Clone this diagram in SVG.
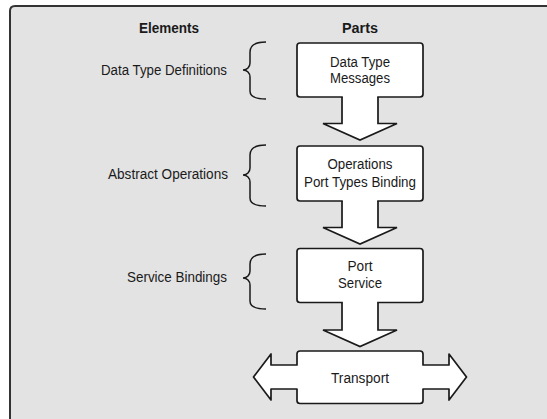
<svg xmlns="http://www.w3.org/2000/svg" width="547" height="419" viewBox="0 0 547 419">
  <style>
    text { font-family: "Liberation Sans Narrow", "Liberation Sans", Arial, sans-serif; font-size: 14px; fill: #1a1a1a; }
    .hdr { font-weight: bold; text-anchor: middle; }
    .lbl { text-anchor: end; }
    .in { text-anchor: middle; }
    .shape { fill: #ffffff; stroke: #1a1a1a; stroke-width: 1.7; stroke-linejoin: round; }
    .brace { fill: none; stroke: #1a1a1a; stroke-width: 1.5; }
    .afill { fill: #ffffff; stroke: none; }
    .aline { fill: none; stroke: #1a1a1a; stroke-width: 1.7; stroke-linejoin: miter; }
  </style>
  <rect x="0" y="0" width="547" height="419" fill="#ffffff"/>
  <path d="M10,430 V11 Q10,6 15,6 H560 V430 Z" fill="#e3e3e3"/>
  <path d="M10,430 V11 Q10,6 15,6 H560" fill="none" stroke="#333333" stroke-width="2"/>

  <text class="hdr" x="169" y="33" textLength="60" lengthAdjust="spacingAndGlyphs">Elements</text>
  <text class="hdr" x="360" y="33" textLength="36" lengthAdjust="spacingAndGlyphs">Parts</text>

  <g id="label-data-type-definitions">
    <text class="lbl" x="227" y="74.5" textLength="126" lengthAdjust="spacingAndGlyphs">Data Type Definitions</text>
    <path class="brace" d="M266,42 C256,42 250,45 250,52 V63 C250,67 247,70 243,70 C247,70 250,73 250,77 V91 C250,96 256,99 266,99"/>
  </g>
  <g id="label-abstract-operations">
    <text class="lbl" x="228" y="179" textLength="120" lengthAdjust="spacingAndGlyphs">Abstract Operations</text>
    <path class="brace" d="M266,145 C256,145 250,148 250,155 V168 C250,172 247,175 243,175 C247,175 250,178 250,182 V198 C250,203 256,206 266,206"/>
  </g>
  <g id="label-service-bindings">
    <text class="lbl" x="227" y="282" textLength="100" lengthAdjust="spacingAndGlyphs">Service Bindings</text>
    <path class="brace" d="M266,254 C256,254 250,257 250,264 V271 C250,275 247,278 243,278 C247,278 250,281 250,285 V301 C250,306 256,309 266,309"/>
  </g>

  <g id="node-data-type">
    <rect class="shape" x="297" y="43" width="126" height="54" rx="3"/>
    <text class="in" x="360" y="66.5" textLength="60" lengthAdjust="spacingAndGlyphs">Data Type</text>
    <text class="in" x="360" y="82.5" textLength="60" lengthAdjust="spacingAndGlyphs">Messages</text>
  </g>
  <g id="node-operations">
    <rect class="shape" x="297" y="146" width="126" height="55" rx="3"/>
    <text class="in" x="360" y="169" textLength="65" lengthAdjust="spacingAndGlyphs">Operations</text>
    <text class="in" x="360" y="186.5" textLength="112" lengthAdjust="spacingAndGlyphs">Port Types Binding</text>
  </g>
  <g id="node-port-service">
    <rect class="shape" x="297" y="248.5" width="126" height="54" rx="3"/>
    <text class="in" x="360" y="271" textLength="25" lengthAdjust="spacingAndGlyphs">Port</text>
    <text class="in" x="360" y="287.5" textLength="44" lengthAdjust="spacingAndGlyphs">Service</text>
  </g>
  <g id="node-transport">
    <path class="shape" d="M300,351 H420 Q423,351 423,354 V365 H449 V354 L466.5,377 L449,400 V389 H423 V400.5 Q423,403.5 420,403.5 H300 Q297,403.5 297,400.5 V389 H271 V400 L253.5,377 L271,354 V365 H297 V354 Q297,351 300,351 Z"/>
    <text class="in" x="360" y="382.5" textLength="58" lengthAdjust="spacingAndGlyphs">Transport</text>
  </g>

  <g id="connectors">
    <g id="arrow-1">
      <path class="afill" d="M342.8,95 V123.5 H323 L360,140 L397,123.5 H377.2 V95 Z"/>
      <path class="aline" d="M342,97 V123.5 H323 L360,140 L397,123.5 H378 V97"/>
    </g>
    <g id="arrow-2">
      <path class="afill" d="M342.8,199 V227.5 H323 L360,244 L397,227.5 H377.2 V199 Z"/>
      <path class="aline" d="M342,201 V227.5 H323 L360,244 L397,227.5 H378 V201"/>
    </g>
    <g id="arrow-3">
      <path class="afill" d="M342.8,300.5 V330 H323 L360,346.5 L397,330 H377.2 V300.5 Z"/>
      <path class="aline" d="M342,302.5 V330 H323 L360,346.5 L397,330 H378 V302.5"/>
    </g>
  </g>
</svg>
